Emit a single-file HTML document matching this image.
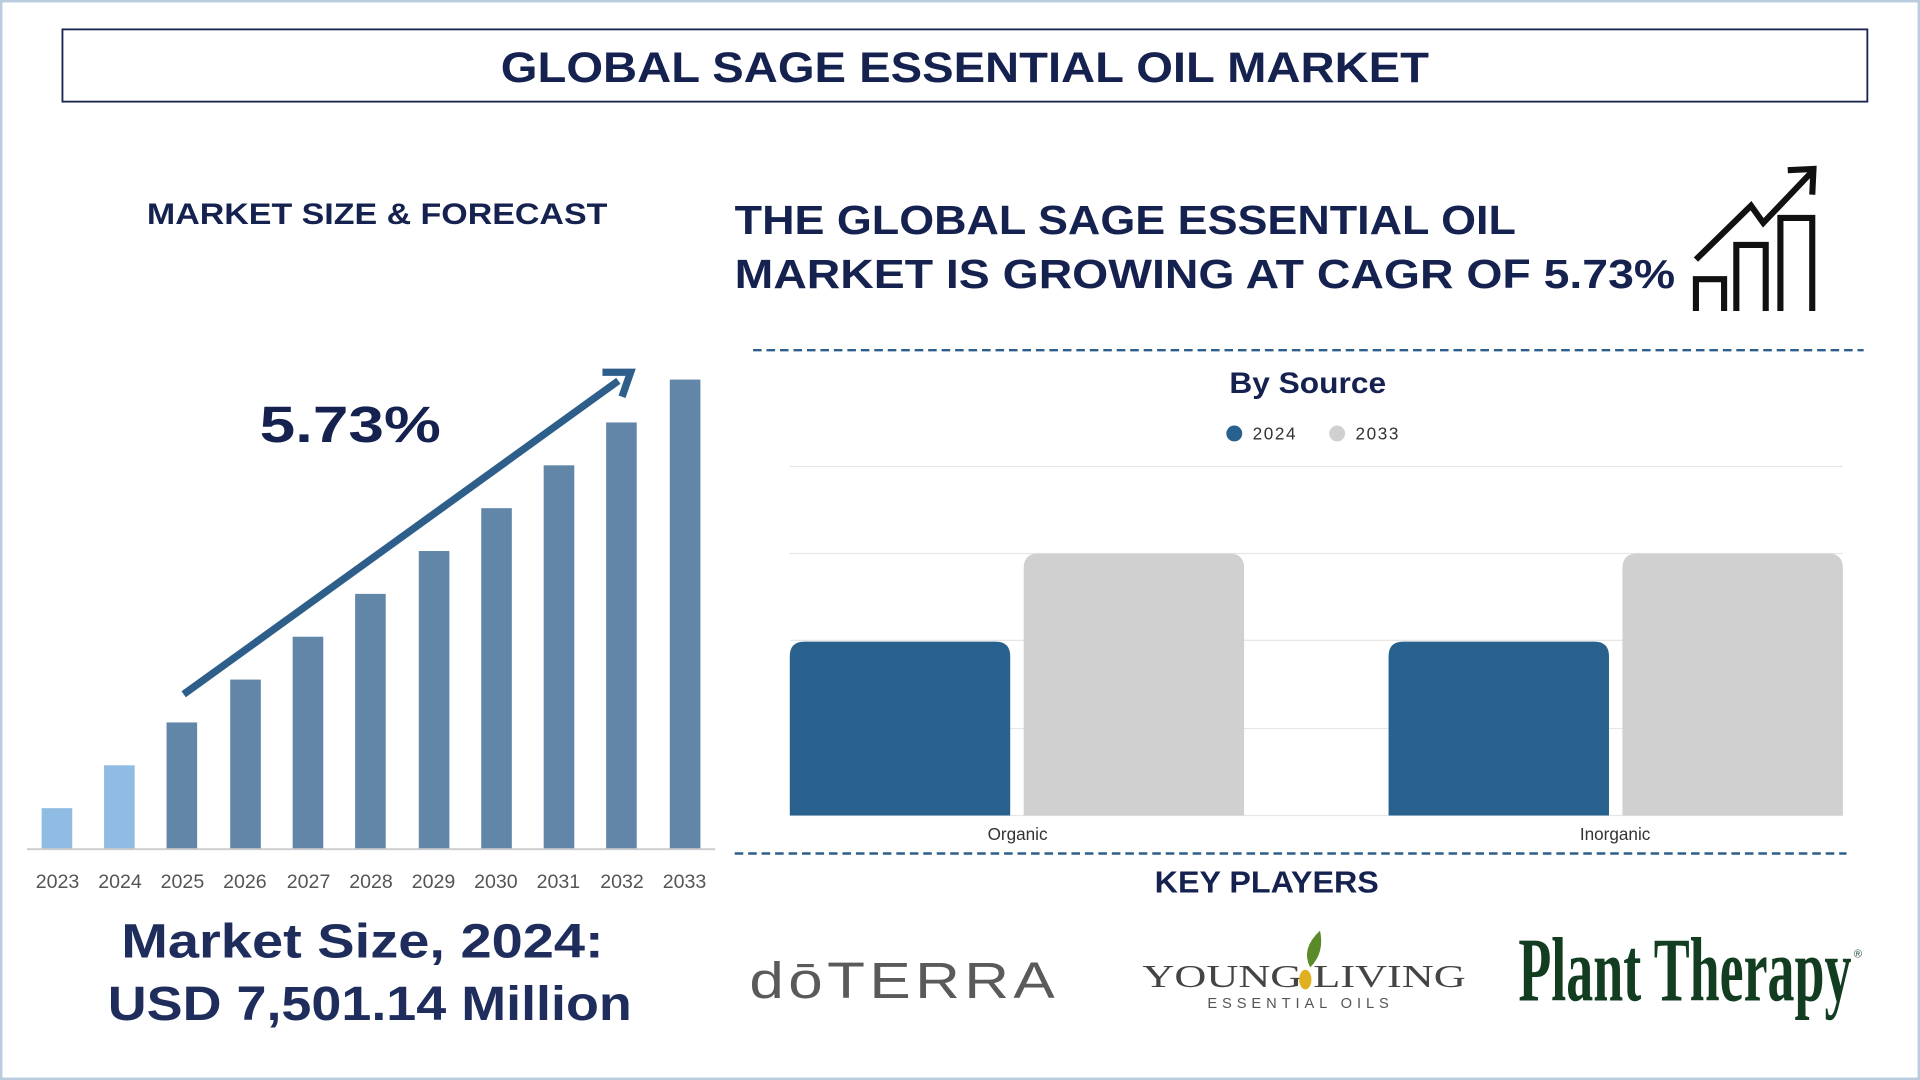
<!DOCTYPE html>
<html><head><meta charset="utf-8"><style>
html,body{margin:0;padding:0;background:#fff;width:1920px;height:1080px;overflow:hidden}
svg{display:block}
</style></head><body>
<svg width="1920" height="1080" viewBox="0 0 1568 882" xmlns="http://www.w3.org/2000/svg" font-family="'Liberation Sans', 'DejaVu Sans', sans-serif">
<rect x="1" y="1" width="1566" height="880" fill="#fff" stroke="#b9cce0" stroke-width="2"/>
<rect x="51" y="24" width="1474" height="59" fill="#fff" stroke="#1a2550" stroke-width="1.5"/>
<text x="409" y="67" font-size="35" font-weight="bold" fill="#15224f" textLength="758" lengthAdjust="spacingAndGlyphs">GLOBAL SAGE ESSENTIAL OIL MARKET</text>
<text x="120" y="183" font-size="24" font-weight="bold" fill="#15224f" textLength="376" lengthAdjust="spacingAndGlyphs">MARKET SIZE &amp; FORECAST</text>
<g>
<rect x="34" y="660" width="25" height="33" fill="#90bbe3"/>
<rect x="85" y="625" width="25" height="68" fill="#90bbe3"/>
<rect x="136" y="590" width="25" height="103" fill="#6286a8"/>
<rect x="188" y="555" width="25" height="138" fill="#6286a8"/>
<rect x="239" y="520" width="25" height="173" fill="#6286a8"/>
<rect x="290" y="485" width="25" height="208" fill="#6286a8"/>
<rect x="342" y="450" width="25" height="243" fill="#6286a8"/>
<rect x="393" y="415" width="25" height="278" fill="#6286a8"/>
<rect x="444" y="380" width="25" height="313" fill="#6286a8"/>
<rect x="495" y="345" width="25" height="348" fill="#6286a8"/>
<rect x="547" y="310" width="25" height="383" fill="#6286a8"/>
</g>
<line x1="22" y1="693.5" x2="584" y2="693.5" stroke="#ccc" stroke-width="1.5"/>
<g font-size="16" fill="#555" text-anchor="middle">
<text x="47" y="725">2023</text><text x="98" y="725">2024</text><text x="149" y="725">2025</text><text x="200" y="725">2026</text><text x="252" y="725">2027</text><text x="303" y="725">2028</text><text x="354" y="725">2029</text><text x="405" y="725">2030</text><text x="456" y="725">2031</text><text x="508" y="725">2032</text><text x="559" y="725">2033</text>
</g>
<line x1="150" y1="567" x2="505" y2="311" stroke="#2e5f8a" stroke-width="6"/>
<polyline points="492,304 515,304 508,324" fill="none" stroke="#2e5f8a" stroke-width="6"/>
<text x="212" y="361" font-size="42" font-weight="bold" fill="#15224f" textLength="148" lengthAdjust="spacingAndGlyphs">5.73%</text>
<text x="99" y="782" font-size="39" font-weight="bold" fill="#1e2d5c" textLength="394" lengthAdjust="spacingAndGlyphs">Market Size, 2024:</text>
<text x="88" y="833" font-size="39" font-weight="bold" fill="#1e2d5c" textLength="428" lengthAdjust="spacingAndGlyphs">USD 7,501.14 Million</text>
<text x="600" y="191" font-size="33" font-weight="bold" fill="#15224f" textLength="638" lengthAdjust="spacingAndGlyphs">THE GLOBAL SAGE ESSENTIAL OIL</text>
<text x="600" y="235" font-size="33" font-weight="bold" fill="#15224f" textLength="768" lengthAdjust="spacingAndGlyphs">MARKET IS GROWING AT CAGR OF 5.73%</text>
<g fill="none" stroke="#111" stroke-width="5">
<polyline points="1385,212 1430,168 1440,182 1480,140"/>
<polyline points="1460,139 1481,138 1480,159"/>
<polyline points="1385,254 1385,228 1408,228 1408,254"/>
<polyline points="1418,254 1418,200 1442,200 1442,254"/>
<polyline points="1454,254 1454,178 1480,178 1480,254"/>
</g>
<line x1="615" y1="286" x2="1522" y2="286" stroke="#2e5f8a" stroke-width="2" stroke-dasharray="7,4"/>
<text x="1004" y="321" font-size="24" font-weight="bold" fill="#15224f" textLength="128" lengthAdjust="spacingAndGlyphs">By Source</text>
<circle cx="1008" cy="354" r="6.5" fill="#28618e"/><text x="1023" y="359" font-size="14" fill="#333" textLength="35">2024</text>
<circle cx="1092" cy="354" r="6.5" fill="#d0d0d0"/><text x="1107" y="359" font-size="14" fill="#333" textLength="35">2033</text>
<g stroke="#e6e6e6" stroke-width="1">
<line x1="645" y1="381" x2="1505" y2="381"/><line x1="645" y1="452" x2="1505" y2="452"/><line x1="645" y1="523" x2="1505" y2="523"/><line x1="645" y1="595" x2="1505" y2="595"/><line x1="645" y1="666" x2="1505" y2="666"/>
</g>
<path d="M645,666 V536 Q645,524 657,524 H813 Q825,524 825,536 V666 Z" fill="#28618e"/>
<path d="M836,666 V464 Q836,452 848,452 H1004 Q1016,452 1016,464 V666 Z" fill="#d0d0d0"/>
<path d="M1134,666 V536 Q1134,524 1146,524 H1302 Q1314,524 1314,536 V666 Z" fill="#28618e"/>
<path d="M1325,666 V464 Q1325,452 1337,452 H1493 Q1505,452 1505,464 V666 Z" fill="#d0d0d0"/>
<text x="831" y="686" text-anchor="middle" font-size="14" fill="#333">Organic</text>
<text x="1319" y="686" text-anchor="middle" font-size="14" fill="#333">Inorganic</text>
<line x1="600" y1="697" x2="1508" y2="697" stroke="#2e5f8a" stroke-width="2" stroke-dasharray="7,4"/>
<text x="943" y="729" font-size="25" font-weight="bold" fill="#15224f" textLength="183" lengthAdjust="spacingAndGlyphs">KEY PLAYERS</text>
<text x="612" y="815" font-size="42" fill="#5a5a5a" letter-spacing="3" textLength="253" lengthAdjust="spacingAndGlyphs">dōTERRA</text>
<text x="933" y="806" font-family="'Liberation Serif', serif" font-size="26" fill="#444" textLength="264" lengthAdjust="spacingAndGlyphs">YOUNG   LIVING</text>
<path d="M1070,790 Q1062,775 1078,760 Q1082,778 1070,790 Z" fill="#5a8a2a"/>
<ellipse cx="1066" cy="800" rx="5" ry="8" fill="#e0b020"/>
<text x="986" y="823" font-size="12" fill="#555" letter-spacing="4">ESSENTIAL OILS</text>
<text x="1240" y="817" font-family="'Liberation Serif', serif" font-weight="bold" font-size="74" fill="#123d20" textLength="272" lengthAdjust="spacingAndGlyphs">Plant Therapy</text>
<text x="1514" y="782" font-size="9" fill="#123d20">®</text>
</svg>
</body></html>
